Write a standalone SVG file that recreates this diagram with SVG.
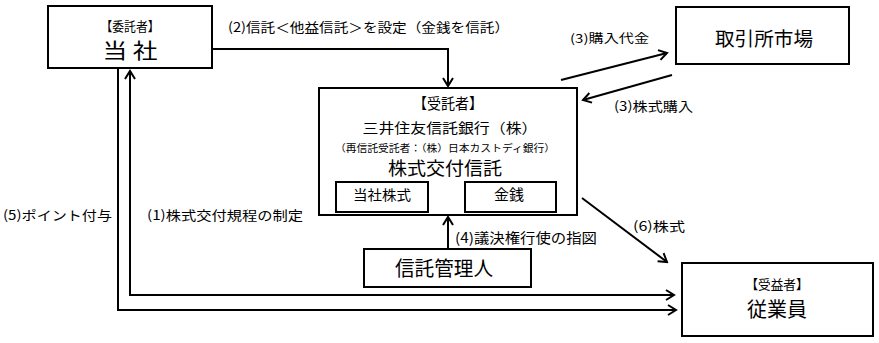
<svg xmlns="http://www.w3.org/2000/svg" width="879" height="343" viewBox="0 0 879 343">
<style>
.box{fill:#fff;stroke:#000;stroke-width:2}
.ln{fill:none;stroke:#000;stroke-width:2}
text{font-family:"Noto Sans CJK JP","Noto Sans CJK SC",sans-serif;fill:#000}
.c{text-anchor:middle}
</style>
<defs>
<marker id="ah" viewBox="-10 -7 12 14" markerWidth="12" markerHeight="14" refX="0" refY="0" markerUnits="userSpaceOnUse" orient="auto-start-reverse">
<path d="M-8,-5 L0,0 L-8,5" fill="none" stroke="#000" stroke-width="2"/>
</marker>
</defs>
<rect width="879" height="343" fill="#fff"/>
<g id="connectors">
<polyline class="ln" points="212,49 448,49 448,86" marker-end="url(#ah)"/>
<line class="ln" x1="561" y1="80" x2="667" y2="53" marker-end="url(#ah)"/>
<line class="ln" x1="672" y1="75" x2="583" y2="100" marker-end="url(#ah)"/>
<line class="ln" x1="448" y1="249" x2="448" y2="217" marker-end="url(#ah)"/>
<line class="ln" x1="582" y1="198" x2="667" y2="262" marker-end="url(#ah)"/>
<polyline class="ln" points="118,69 118,310 676,310" marker-end="url(#ah)"/>
<polyline class="ln" points="130,71 130,295 674,295" stroke-width="1.6" marker-start="url(#ah)" marker-end="url(#ah)"/>
<text x="228" y="32" font-size="13" textLength="281" lengthAdjust="spacingAndGlyphs">(2)信託＜他益信託＞を設定（金銭を信託）</text>
<text x="570" y="43" font-size="12" textLength="79" lengthAdjust="spacingAndGlyphs">(3)購入代金</text>
<text x="614" y="111" font-size="13" textLength="79" lengthAdjust="spacingAndGlyphs">(3)株式購入</text>
<text x="455" y="243" font-size="14" textLength="142" lengthAdjust="spacingAndGlyphs">(4)議決権行使の指図</text>
<text x="3" y="220" font-size="13" textLength="109" lengthAdjust="spacingAndGlyphs">(5)ポイント付与</text>
<text x="147" y="220" font-size="13" textLength="156" lengthAdjust="spacingAndGlyphs">(1)株式交付規程の制定</text>
<text x="633" y="231" font-size="13" textLength="52" lengthAdjust="spacingAndGlyphs">(6)株式</text>
</g>
<g id="itaku">
<rect class="box" x="48" y="6" width="164" height="62"/>
<text class="c" x="130" y="31" font-size="13" textLength="59" lengthAdjust="spacingAndGlyphs">【委託者】</text>
<text class="c" x="130" y="58" font-size="21" textLength="55" lengthAdjust="spacingAndGlyphs">当 社</text>
</g>
<g id="market">
<rect class="box" x="676" y="7" width="173" height="57"/>
<text class="c" x="764" y="46" font-size="19" textLength="98" lengthAdjust="spacingAndGlyphs">取引所市場</text>
</g>
<g id="jutaku">
<rect class="box" x="319" y="88" width="258" height="127"/>
<text class="c" x="448" y="109" font-size="15" textLength="70" lengthAdjust="spacingAndGlyphs">【受託者】</text>
<text class="c" x="450" y="133" font-size="14" textLength="175" lengthAdjust="spacingAndGlyphs">三井住友信託銀行（株）</text>
<text class="c" x="445" y="152" font-size="10" textLength="220" lengthAdjust="spacingAndGlyphs">（再信託受託者：（株）日本カストディ銀行）</text>
<text class="c" x="445" y="175" font-size="18.5" textLength="114" lengthAdjust="spacingAndGlyphs">株式交付信託</text>
</g>
<g id="toshakabushiki">
<rect class="box" x="336" y="182" width="92" height="30"/>
<text class="c" x="382" y="200" font-size="14" textLength="58" lengthAdjust="spacingAndGlyphs">当社株式</text>
</g>
<g id="kinsen">
<rect class="box" x="465" y="182" width="91" height="30"/>
<text class="c" x="509" y="200" font-size="15" textLength="30" lengthAdjust="spacingAndGlyphs">金銭</text>
</g>
<g id="kanrinin">
<rect class="box" x="364" y="249" width="167" height="38"/>
<text class="c" x="444" y="276" font-size="20" textLength="98" lengthAdjust="spacingAndGlyphs">信託管理人</text>
</g>
<g id="jueki">
<rect class="box" x="682" y="263" width="191" height="73"/>
<text class="c" x="777" y="289" font-size="13" textLength="63" lengthAdjust="spacingAndGlyphs">【受益者】</text>
<text class="c" x="777" y="317" font-size="20" textLength="60" lengthAdjust="spacingAndGlyphs">従業員</text>
</g>
</svg>
